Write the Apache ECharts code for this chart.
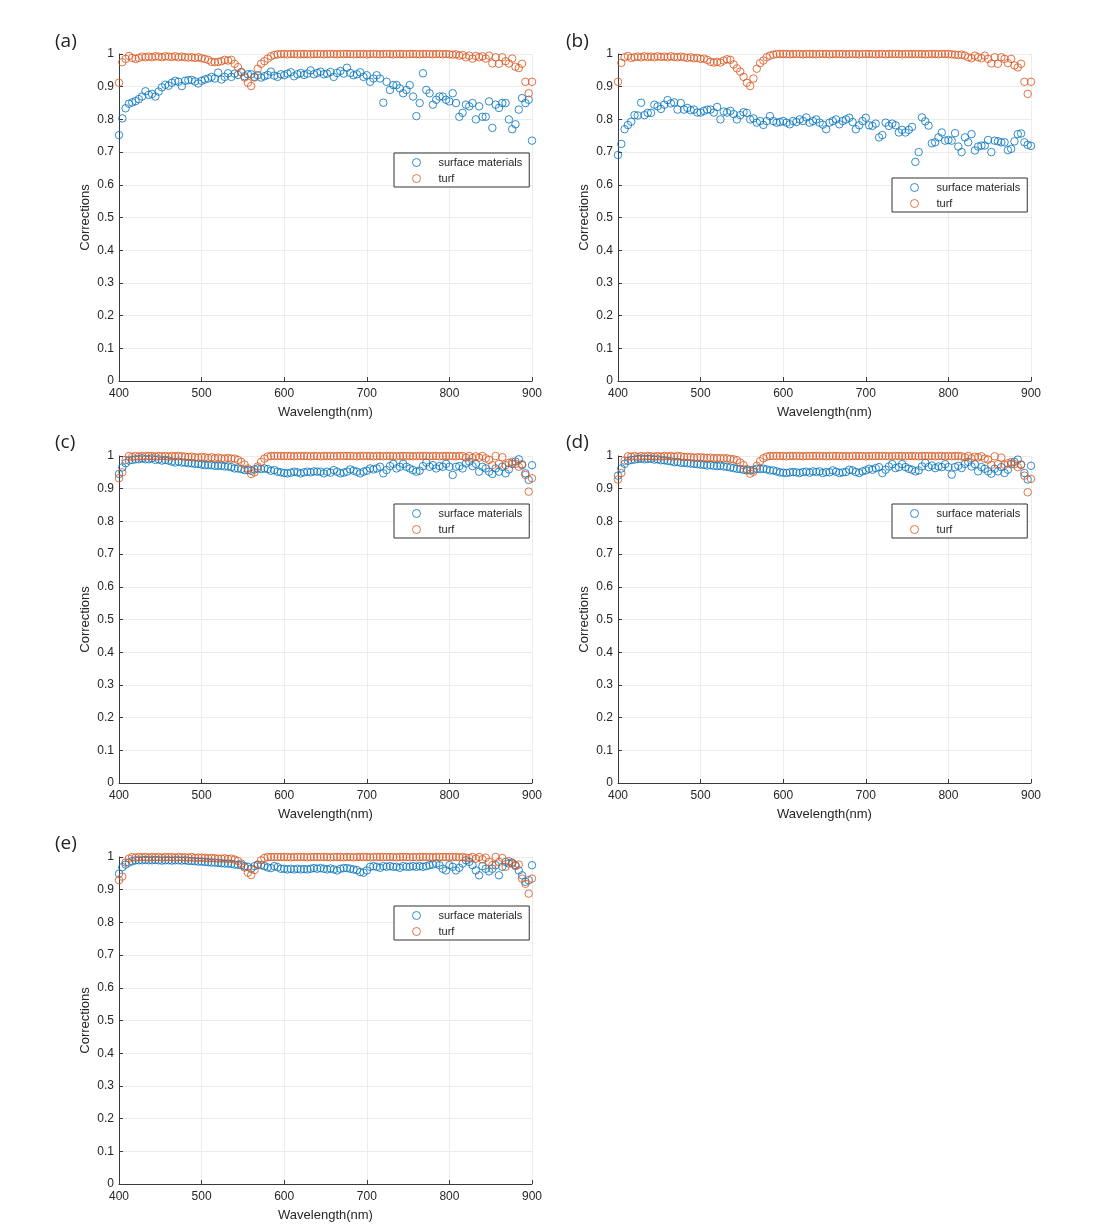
<!DOCTYPE html>
<html>
<head>
<meta charset="utf-8">
<script src="https://cdn.jsdelivr.net/npm/echarts@6/dist/echarts.min.js"></script>
<style>html,body{margin:0;padding:0;background:#fff}#chart{width:1105px;height:1232px}</style>
</head>
<body>
<div id="chart"></div>
<script>
const wavelengths = [
400,404,408,412,416,420,424,428,432,436,
440,444,448,452,456,460,464,468,472,476,
480,484,488,492,496,500,504,508,512,516,
520,524,528,532,536,540,544,548,552,556,
560,564,568,572,576,580,584,588,592,596,
600,604,608,612,616,620,624,628,632,636,
640,644,648,652,656,660,664,668,672,676,
680,684,688,692,696,700,704,708,712,716,
720,724,728,732,736,740,744,748,752,756,
760,764,768,772,776,780,784,788,792,796,
800,804,808,812,816,820,824,828,832,836,
840,844,848,852,856,860,864,868,872,876,
880,884,888,892,896,900];

const xTicks = [400,500,600,700,800,900];
const yTicks = [0,0.1,0.2,0.3,0.4,0.5,0.6,0.7,0.8,0.9,1];
const panelLabels = ['(a)','(b)','(c)','(d)','(e)'];
const seriesNames = ['surface materials','turf'];

const aSurf = [
0.752,0.803,0.834,0.848,0.852,0.856,0.862,0.870,0.886,0.875,
0.878,0.870,0.885,0.898,0.906,0.903,0.912,0.918,0.915,0.902,
0.918,0.920,0.921,0.916,0.910,0.918,0.922,0.925,0.930,0.925,
0.943,0.922,0.930,0.941,0.930,0.940,0.936,0.945,0.932,0.938,
0.938,0.930,0.935,0.928,0.932,0.936,0.946,0.934,0.930,0.938,
0.935,0.940,0.944,0.932,0.938,0.942,0.936,0.940,0.950,0.938,
0.942,0.946,0.938,0.940,0.945,0.930,0.942,0.948,0.940,0.958,
0.942,0.935,0.938,0.944,0.930,0.935,0.915,0.925,0.935,0.925,
0.851,0.915,0.890,0.905,0.905,0.895,0.880,0.890,0.905,0.870,
0.810,0.850,0.941,0.890,0.880,0.845,0.860,0.870,0.870,0.860,
0.855,0.880,0.850,0.808,0.820,0.845,0.840,0.850,0.800,0.840,
0.808,0.808,0.855,0.774,0.845,0.835,0.850,0.850,0.800,0.770,
0.785,0.830,0.865,0.850,0.860,0.735];
const aTurf = [
0.912,0.975,0.985,0.994,0.988,0.985,0.988,0.992,0.990,0.992,
0.990,0.993,0.992,0.990,0.993,0.992,0.991,0.993,0.990,0.992,
0.990,0.989,0.990,0.988,0.990,0.987,0.985,0.982,0.976,0.975,
0.976,0.978,0.982,0.980,0.982,0.970,0.960,0.944,0.928,0.912,
0.902,0.928,0.955,0.970,0.978,0.986,0.993,0.997,0.999,1.000,
1.000,0.999,1.000,1.000,0.999,1.000,1.000,1.000,0.999,1.000,
1.000,1.000,0.999,1.000,1.000,1.000,0.999,1.000,1.000,1.000,
1.000,0.999,1.000,1.000,1.000,0.999,1.000,1.000,1.000,0.999,
1.000,1.000,1.000,0.999,1.000,1.000,1.000,0.999,1.000,1.000,
1.000,0.999,1.000,1.000,1.000,0.999,1.000,1.000,0.999,1.000,
0.999,0.998,0.999,0.995,0.997,0.990,0.995,0.986,0.994,0.990,
0.993,0.986,0.995,0.971,0.990,0.970,0.990,0.978,0.971,0.986,
0.961,0.957,0.970,0.915,0.880,0.915];

const bSurf = [
0.691,0.725,0.770,0.783,0.793,0.813,0.812,0.851,0.813,0.820,
0.820,0.845,0.840,0.832,0.845,0.859,0.849,0.852,0.830,0.850,
0.830,0.835,0.828,0.830,0.821,0.821,0.826,0.830,0.830,0.821,
0.838,0.800,0.824,0.821,0.826,0.816,0.800,0.813,0.822,0.820,
0.800,0.803,0.790,0.795,0.783,0.795,0.810,0.795,0.790,0.792,
0.795,0.790,0.785,0.795,0.792,0.800,0.795,0.806,0.790,0.795,
0.800,0.790,0.784,0.770,0.790,0.795,0.800,0.785,0.795,0.800,
0.805,0.792,0.770,0.782,0.795,0.805,0.782,0.780,0.787,0.745,
0.752,0.790,0.780,0.787,0.782,0.760,0.768,0.760,0.768,0.777,
0.670,0.700,0.806,0.794,0.781,0.727,0.730,0.745,0.760,0.735,
0.737,0.735,0.758,0.717,0.700,0.745,0.730,0.755,0.705,0.717,
0.720,0.720,0.737,0.700,0.735,0.733,0.730,0.730,0.706,0.710,
0.733,0.755,0.757,0.730,0.722,0.719];
const bTurf = [
0.915,0.973,0.990,0.994,0.988,0.990,0.992,0.990,0.993,0.991,
0.992,0.990,0.993,0.991,0.992,0.990,0.993,0.991,0.990,0.992,
0.990,0.988,0.990,0.987,0.988,0.985,0.986,0.982,0.976,0.974,
0.976,0.974,0.980,0.984,0.982,0.968,0.956,0.946,0.930,0.912,
0.902,0.925,0.955,0.972,0.980,0.990,0.995,0.998,1.000,1.000,
1.000,1.000,0.999,1.000,1.000,1.000,0.999,1.000,1.000,1.000,
0.999,1.000,1.000,1.000,0.999,1.000,1.000,1.000,1.000,0.999,
1.000,1.000,1.000,0.999,1.000,1.000,1.000,1.000,0.999,1.000,
1.000,0.999,1.000,1.000,1.000,1.000,0.999,1.000,1.000,1.000,
1.000,1.000,1.000,0.999,1.000,1.000,1.000,0.999,1.000,1.000,
1.000,0.999,0.998,0.997,0.998,0.995,0.990,0.987,0.995,0.990,
0.987,0.995,0.985,0.971,0.990,0.970,0.990,0.985,0.972,0.985,
0.965,0.959,0.970,0.915,0.878,0.915];

const cSurf = [
0.945,0.965,0.978,0.986,0.988,0.990,0.990,0.993,0.990,0.990,
0.993,0.988,0.990,0.986,0.988,0.986,0.983,0.980,0.983,0.980,
0.980,0.978,0.978,0.976,0.976,0.974,0.972,0.972,0.972,0.970,
0.970,0.970,0.968,0.968,0.966,0.962,0.962,0.960,0.957,0.957,
0.955,0.959,0.962,0.960,0.962,0.960,0.955,0.957,0.952,0.950,
0.948,0.947,0.949,0.952,0.950,0.947,0.950,0.952,0.950,0.953,
0.952,0.952,0.947,0.952,0.949,0.957,0.952,0.947,0.949,0.952,
0.959,0.955,0.952,0.947,0.952,0.955,0.962,0.959,0.962,0.967,
0.947,0.957,0.969,0.976,0.962,0.967,0.976,0.967,0.962,0.957,
0.952,0.955,0.969,0.980,0.967,0.972,0.962,0.969,0.967,0.976,
0.967,0.942,0.967,0.969,0.962,0.977,0.983,0.969,0.976,0.952,
0.967,0.962,0.952,0.945,0.962,0.952,0.967,0.947,0.959,0.976,
0.983,0.990,0.972,0.947,0.927,0.972];
const cTurf = [
0.932,0.950,0.988,1.000,0.997,1.000,0.998,1.000,0.999,1.000,
1.000,0.998,1.000,0.999,1.000,0.998,1.000,0.999,1.000,0.999,
0.998,0.997,0.998,0.996,0.995,0.997,0.996,0.994,0.996,0.993,
0.995,0.993,0.992,0.994,0.992,0.992,0.988,0.982,0.974,0.962,
0.945,0.950,0.968,0.982,0.992,0.998,1.000,1.000,1.000,1.000,
1.000,1.000,1.000,0.999,1.000,1.000,1.000,1.000,0.999,1.000,
1.000,0.999,1.000,1.000,1.000,0.999,1.000,1.000,1.000,1.000,
1.000,1.000,0.999,1.000,1.000,1.000,1.000,0.999,1.000,1.000,
0.999,1.000,1.000,1.000,0.999,1.000,1.000,1.000,1.000,0.999,
1.000,1.000,1.000,1.000,0.999,1.000,1.000,0.999,1.000,1.000,
1.000,1.000,0.999,1.000,1.000,0.995,1.000,0.994,0.999,0.995,
1.000,0.993,0.988,0.972,1.000,0.976,0.996,0.972,0.979,0.982,
0.976,0.967,0.975,0.942,0.891,0.932];

const dSurf = [
0.940,0.962,0.976,0.985,0.988,0.989,0.991,0.992,0.990,0.991,
0.992,0.989,0.990,0.987,0.987,0.985,0.984,0.981,0.982,0.979,
0.979,0.978,0.977,0.976,0.975,0.974,0.973,0.971,0.972,0.970,
0.969,0.970,0.968,0.967,0.965,0.963,0.961,0.960,0.958,0.956,
0.956,0.958,0.961,0.960,0.961,0.959,0.956,0.956,0.953,0.950,
0.949,0.948,0.950,0.951,0.950,0.948,0.951,0.952,0.949,0.953,
0.951,0.953,0.948,0.951,0.950,0.956,0.952,0.948,0.950,0.951,
0.958,0.956,0.951,0.948,0.953,0.956,0.961,0.958,0.963,0.966,
0.948,0.958,0.968,0.975,0.963,0.966,0.975,0.966,0.961,0.958,
0.953,0.956,0.968,0.979,0.966,0.971,0.963,0.968,0.966,0.975,
0.966,0.943,0.966,0.970,0.963,0.976,0.982,0.968,0.975,0.953,
0.966,0.961,0.953,0.946,0.961,0.953,0.966,0.948,0.958,0.975,
0.982,0.989,0.973,0.948,0.928,0.970];
const dTurf = [
0.928,0.948,0.986,0.999,0.998,1.000,0.997,1.000,0.998,1.000,
0.999,0.998,1.000,0.998,1.000,0.999,1.000,0.998,1.000,0.999,
0.997,0.997,0.997,0.995,0.996,0.996,0.995,0.994,0.995,0.993,
0.994,0.993,0.993,0.993,0.991,0.990,0.987,0.980,0.972,0.960,
0.946,0.952,0.970,0.984,0.993,0.998,1.000,1.000,1.000,1.000,
1.000,0.999,1.000,1.000,1.000,1.000,0.999,1.000,1.000,1.000,
1.000,1.000,1.000,0.999,1.000,1.000,1.000,1.000,0.999,1.000,
0.999,1.000,1.000,1.000,1.000,0.999,1.000,1.000,1.000,1.000,
1.000,1.000,0.999,1.000,1.000,1.000,1.000,0.999,1.000,1.000,
1.000,0.999,1.000,1.000,1.000,1.000,0.999,1.000,1.000,0.999,
1.000,0.999,1.000,1.000,0.999,0.996,1.000,0.993,0.998,0.996,
0.999,0.992,0.989,0.973,0.999,0.975,0.995,0.973,0.978,0.981,
0.975,0.966,0.974,0.940,0.889,0.930];

const eSurf = [
0.949,0.969,0.977,0.983,0.987,0.990,0.990,0.990,0.991,0.990,
0.990,0.991,0.990,0.989,0.990,0.990,0.989,0.990,0.990,0.989,
0.990,0.988,0.988,0.987,0.986,0.986,0.985,0.984,0.983,0.983,
0.982,0.981,0.980,0.980,0.979,0.977,0.976,0.975,0.972,0.970,
0.964,0.972,0.976,0.975,0.972,0.968,0.966,0.972,0.969,0.964,
0.964,0.962,0.964,0.962,0.964,0.962,0.963,0.962,0.964,0.966,
0.964,0.966,0.964,0.962,0.965,0.962,0.959,0.964,0.966,0.966,
0.964,0.962,0.960,0.954,0.952,0.959,0.970,0.972,0.970,0.967,
0.972,0.970,0.972,0.970,0.970,0.967,0.972,0.970,0.970,0.972,
0.970,0.972,0.970,0.972,0.975,0.977,0.980,0.975,0.964,0.959,
0.975,0.970,0.959,0.967,0.980,0.990,0.985,0.975,0.959,0.944,
0.972,0.964,0.956,0.964,0.975,0.944,0.970,0.985,0.980,0.983,
0.975,0.959,0.944,0.924,0.929,0.975];
const eTurf = [
0.929,0.940,0.983,0.995,1.000,0.998,1.000,0.999,1.000,0.998,
1.000,0.999,1.000,0.998,1.000,0.999,1.000,0.998,1.000,0.999,
0.999,0.998,1.000,0.997,0.998,0.998,0.997,0.996,0.997,0.996,
0.995,0.995,0.996,0.994,0.995,0.992,0.988,0.980,0.968,0.952,
0.945,0.960,0.977,0.990,0.997,1.000,1.000,1.000,1.000,1.000,
1.000,1.000,0.999,1.000,1.000,1.000,1.000,0.999,1.000,1.000,
1.000,1.000,1.000,1.000,0.999,1.000,1.000,1.000,0.999,1.000,
1.000,0.999,1.000,1.000,1.000,1.000,0.999,1.000,1.000,1.000,
1.000,1.000,1.000,1.000,0.999,1.000,1.000,1.000,0.999,1.000,
0.999,1.000,1.000,1.000,1.000,0.999,1.000,1.000,1.000,1.000,
1.000,1.000,1.000,0.999,1.000,0.998,0.997,1.000,0.995,1.000,
0.993,0.998,0.985,0.975,1.000,0.985,0.997,0.970,0.987,0.980,
0.972,0.977,0.934,0.918,0.888,0.934];

const panelSurf = [aSurf,bSurf,cSurf,dSurf,eSurf];
const panelTurf = [aTurf,bTurf,cTurf,dTurf,eTurf];

// layout (pixels)
const gridPos = [
  {left:119, top:54}, {left:618, top:54},
  {left:119, top:456}, {left:618, top:456},
  {left:119, top:857}
];
const legendPos = [
  {left:394, top:153}, {left:892, top:178},
  {left:394, top:504}, {left:892, top:504},
  {left:394, top:906}
];
const labelPos = [
  {left:50, top:27}, {left:561, top:27},
  {left:50, top:428}, {left:561, top:428},
  {left:50, top:829}
];

const BLUE = '#0072BD', ORANGE = '#D95319';
const AX = '#3a3a3a', TXT = '#262626';
const FONT = 'Liberation Sans, Arial, Helvetica, sans-serif';

function pts(vals){ return wavelengths.map((w,i)=>[w, vals[i]]); }

const grid = gridPos.map(p=>({left:p.left, top:p.top, width:413, height:327, containLabel:false}));
const xAxis = gridPos.map((p,i)=>({
  type:'value', gridIndex:i, min:xTicks[0], max:xTicks[xTicks.length-1], interval:100,
  name:'Wavelength(nm)', nameLocation:'middle', nameGap:25,
  nameTextStyle:{fontSize:13, color:TXT, fontFamily:FONT},
  axisLine:{show:true, onZero:false, lineStyle:{color:AX, width:1}},
  axisTick:{show:true, inside:true, length:4, lineStyle:{color:AX}},
  axisLabel:{fontSize:12, color:TXT, fontFamily:FONT, margin:7},
  splitLine:{show:true, lineStyle:{color:'#ececec', width:1}}
}));
const yAxis = gridPos.map((p,i)=>({
  type:'value', gridIndex:i, min:yTicks[0], max:yTicks[yTicks.length-1], interval:0.1,
  name:'Corrections', nameLocation:'middle', nameGap:27,
  nameTextStyle:{fontSize:13, color:TXT, fontFamily:FONT},
  axisLine:{show:true, onZero:false, lineStyle:{color:AX, width:1}},
  axisTick:{show:true, inside:true, length:4, lineStyle:{color:AX}},
  axisLabel:{fontSize:12, color:TXT, fontFamily:FONT, margin:5,
    formatter:v=>String(Math.round(v*10)/10)},
  splitLine:{show:true, lineStyle:{color:'#ececec', width:1}}
}));

const series = [];
for (let i=0;i<5;i++){
  series.push({
    name:seriesNames[0], type:'scatter', xAxisIndex:i, yAxisIndex:i,
    symbol:'circle', symbolSize:7.5, data:pts(panelSurf[i]),
    itemStyle:{color:'rgba(255,255,255,0)', borderColor:BLUE, borderWidth:1, opacity:0.8},
    emphasis:{disabled:true}, silent:true
  });
  series.push({
    name:seriesNames[1], type:'scatter', xAxisIndex:i, yAxisIndex:i,
    symbol:'circle', symbolSize:7.5, data:pts(panelTurf[i]),
    itemStyle:{color:'rgba(255,255,255,0)', borderColor:ORANGE, borderWidth:1, opacity:0.8},
    emphasis:{disabled:true}, silent:true
  });
}

const legend = legendPos.map(p=>({
  left:p.left, top:p.top, orient:'vertical', data:seriesNames,
  backgroundColor:'#fff', borderColor:'#333', borderWidth:1,
  padding:[4,7,3,18], itemWidth:34, itemHeight:8, itemGap:5,
  selectedMode:false,
  itemStyle:{borderWidth:1},
  textStyle:{fontSize:11, color:TXT, fontFamily:FONT}
}));

const title = labelPos.map((p,i)=>({
  text:panelLabels[i], left:p.left, top:p.top,
  textStyle:{fontSize:19, fontWeight:'normal', color:'#222', fontFamily:'Open Sans, Noto Sans, sans-serif'}
}));

const chart = echarts.init(document.getElementById('chart'), null, {renderer:'canvas'});
chart.setOption({
  animation:false, backgroundColor:'#fff',
  title, grid, xAxis, yAxis, legend, series
});
</script>
</body>
</html>
